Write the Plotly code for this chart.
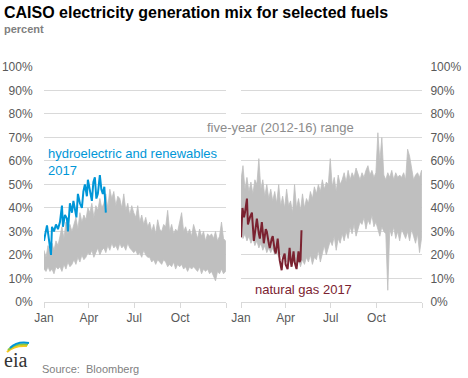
import plotly.graph_objects as go
import pandas as pd

# ---------------- data ----------------
band_days = list(range(0, 365, 4))  # day-of-year sample points of the 2012-16 range

hydro_upper = [22, 19, 24, 21, 25, 22, 26, 24,
               28, 32, 27, 34, 29, 33, 30,
               33, 36, 31, 38, 34, 37, 35, 40,
               38, 42, 36, 41, 39, 44, 40,
               42, 46, 40, 48, 44, 47, 41, 45,
               44, 40, 46, 39, 42, 37, 41, 38,
               36, 41, 34, 37, 33, 36, 32,
               34, 30, 33, 29, 35, 31, 30, 33,
               32, 39, 30, 33, 29, 31, 30, 34,
               38, 30, 32, 29, 31, 28, 33,
               30, 27, 31, 28, 30, 26, 29, 28,
               29, 27, 30, 26, 28, 34, 27, 26]
hydro_lower = [14, 13, 15, 13, 14, 12, 15, 14,
               15, 13, 16, 14, 17, 15, 16,
               18, 16, 19, 17, 20, 18, 19, 21,
               20, 22, 19, 21, 23, 20, 22,
               23, 21, 24, 22, 25, 23, 24, 22,
               25, 23, 24, 22, 25, 23, 22, 21,
               22, 20, 21, 19, 22, 20, 19,
               19, 17, 18, 16, 18, 17, 16, 18,
               17, 15, 16, 15, 17, 14, 16, 15,
               16, 14, 15, 13, 15, 14, 15,
               14, 13, 15, 12, 14, 13, 14, 12,
               13, 11, 9, 13, 12, 14, 12, 13]

gas_upper = [52, 58, 48, 53, 47, 51, 46, 52,
             50, 61, 48, 52, 45, 50, 44,
             48, 43, 47, 42, 50, 41, 45, 40,
             48, 41, 43, 38, 50, 40, 44,
             39, 46, 40, 44, 42, 47, 44, 49,
             46, 50, 47, 52, 48, 51, 50, 61,
             49, 53, 47, 54, 50, 52, 55,
             51, 56, 52, 55, 53, 57, 54, 52,
             55, 53, 56, 58, 54, 56, 53, 55,
             72, 60, 70, 54, 52, 55, 53,
             56, 52, 55, 53, 54, 53, 55, 52,
             65, 62, 56, 52, 54, 55, 53, 56]
gas_lower = [30, 27, 29, 26, 28, 25, 27, 24,
             26, 23, 25, 22, 24, 21, 23,
             21, 23, 20, 22, 19, 21, 18, 20,
             17, 19, 16, 18, 17, 16, 18,
             15, 18, 16, 19, 17, 20, 16, 19,
             18, 22, 17, 21, 24, 20, 23, 26,
             24, 28, 22, 27, 25, 29, 26,
             30, 27, 32, 29, 33, 28, 31, 34,
             33, 36, 31, 35, 33, 37, 32, 34,
             31, 28, 32, 30, 29, 5, 31,
             28, 32, 27, 30, 26, 31, 29, 27,
             30, 26, 31, 28, 25, 29, 21, 27]

hydro2017_days = [0, 3, 6, 9, 12, 14, 16, 20, 24, 28,
                  32, 36, 38, 42, 46, 48, 52, 56, 59, 62,
                  65, 68, 72, 76, 79, 82, 86, 88, 92, 96,
                  99, 102, 105, 108, 112, 115, 118, 121, 124]
hydro2017 = [26, 29, 32.6, 28, 22, 20, 32, 30, 33, 31,
             34, 41, 32, 37, 35.5, 30, 42, 38, 43, 39,
             36, 46, 42, 40, 47, 50, 45, 52, 47, 43,
             51, 53, 44, 46, 54, 48, 46, 49, 38]

gas2017_days = [0, 3, 6, 8, 12, 14, 18, 22, 26, 30,
                32, 36, 38, 42, 44, 46, 50, 52, 56, 58,
                62, 64, 68, 70, 74, 76, 78, 82, 84, 88,
                90, 94, 98, 100, 102, 106, 108, 112, 116, 118,
                120, 122]
gas2017 = [27.5, 40, 36, 38, 44, 33, 36, 38, 26, 33,
           35.5, 29, 27, 34, 29, 25, 31, 30, 25, 23,
           27, 28, 22, 20.6, 27, 22, 17.8, 13.5, 18, 20.6,
           16, 14, 23, 18, 15, 21.5, 17, 14, 21.5, 17,
           18, 30.5]

tick_dates = ["2017-01-01", "2017-04-01", "2017-07-01", "2017-10-01", "2018-01-01"]
tick_labels = ["Jan", "Apr", "Jul", "Oct", ""]
y_ticks = list(range(0, 101, 10))
y_labels = [f"{v}%" for v in y_ticks]

# ---------------- styling ----------------
FONT = "Liberation Sans, Arial, sans-serif"
GRAY_BAND = "#BFBFBF"
BLUE = "#0096D7"
RED = "#7B2230"
GRID = "#D9D9D9"
LABEL = "#595959"

W, H = 468, 378
ML, MR, MT, MB = 44, 46, 66, 76
PW, PH = W - ML - MR, H - MT - MB

base = pd.Timestamp("2017-01-01")


def to_dates(days):
    return [base + pd.Timedelta(days=d) for d in days]


def px(x):
    return (x - ML) / PW


def py(y):
    return (H - MB - y) / PH


fig = go.Figure()

for lo, hi, xa, ya in [(hydro_lower, hydro_upper, "x", "y"), (gas_lower, gas_upper, "x2", "y2")]:
    d = to_dates(band_days)
    fig.add_trace(go.Scatter(
        x=d + d[::-1], y=hi + lo[::-1], mode="lines", fill="toself",
        fillcolor=GRAY_BAND, line=dict(color=GRAY_BAND, width=0.8),
        xaxis=xa, yaxis=ya, hoverinfo="skip", showlegend=False))

fig.add_trace(go.Scatter(x=to_dates(hydro2017_days), y=hydro2017, mode="lines",
                         line=dict(color=BLUE, width=2), xaxis="x", yaxis="y", showlegend=False))
fig.add_trace(go.Scatter(x=to_dates(gas2017_days), y=gas2017, mode="lines",
                         line=dict(color=RED, width=2), xaxis="x2", yaxis="y2", showlegend=False))

xcommon = dict(type="date", range=["2017-01-01", "2018-01-01"], tickvals=tick_dates,
               ticktext=tick_labels, ticks="outside", ticklen=5, tickcolor=GRID,
               showgrid=False, showline=True, linecolor=GRID, linewidth=1, zeroline=False,
               automargin=False,
               tickfont=dict(family=FONT, size=12, color=LABEL), fixedrange=True)
ycommon = dict(range=[0, 100.4], tickvals=y_ticks, ticktext=y_labels, showgrid=True,
               gridcolor=GRID, gridwidth=1, zeroline=False, showline=False, ticks="outside",
               tickcolor="rgba(0,0,0,0)", automargin=False,
               tickfont=dict(family=FONT, size=12, color=LABEL), fixedrange=True)

x1_end = (226 - ML) / PW
x2_start = (241 - ML) / PW

fig.update_layout(
    width=W, height=H,
    margin=dict(l=ML, r=MR, t=MT, b=MB, autoexpand=False),
    paper_bgcolor="white", plot_bgcolor="white",
    xaxis=dict(domain=[0, x1_end], anchor="y", **xcommon),
    xaxis2=dict(domain=[x2_start, 1], anchor="y2", **xcommon),
    yaxis=dict(anchor="x", side="left", ticklen=8, **ycommon),
    yaxis2=dict(anchor="x2", side="right", ticklen=5, **ycommon),
    showlegend=False,
)

ann = [
    dict(text="<b>CAISO electricity generation mix for selected fuels</b>", x=px(2), y=py(2),
         xanchor="left", yanchor="top", font=dict(family=FONT, size=16, color="#000000")),
    dict(text="<b>percent</b>", x=px(2), y=py(21), xanchor="left", yanchor="top",
         font=dict(family=FONT, size=11, color="#7F7F7F")),
    dict(text="five-year (2012-16) range", x=px(205), y=py(127), xanchor="left", yanchor="middle",
         font=dict(family=FONT, size=13, color="#8C8C8C")),
    dict(text="hydroelectric and renewables<br>2017", x=px(46), y=py(162), xanchor="left",
         yanchor="middle", align="left", font=dict(family=FONT, size=13, color=BLUE)),
    dict(text="natural gas 2017", x=px(253), y=py(289), xanchor="left", yanchor="middle",
         font=dict(family=FONT, size=13, color=RED)),
    dict(text="Source:  Bloomberg", x=px(40), y=py(369), xanchor="left", yanchor="middle",
         font=dict(family=FONT, size=11, color="#7F7F7F")),
    dict(text="eia", x=px(2), y=py(360), xanchor="left", yanchor="middle",
         font=dict(family="Liberation Serif, DejaVu Serif, serif", size=20, color="#333333")),
]
for a in ann:
    a.update(xref="paper", yref="paper", showarrow=False)
fig.update_layout(annotations=ann)

# small swoosh of the eia logo
for (x0, y0, cx, cy, x1, y1, col) in [(7, 352, 14, 345, 27, 346, "#F7C81E"),
                                       (8, 350, 15, 343, 28, 344.5, "#8CC63F"),
                                       (10, 348, 17, 341, 29, 343, "#0096D7")]:
    fig.add_shape(type="path", xref="paper", yref="paper",
                  path=f"M {px(x0)},{py(y0)} Q {px(cx)},{py(cy)} {px(x1)},{py(y1)}",
                  line=dict(color=col, width=2))

fig.write_html("out.html", config={"displayModeBar": False},
               post_script="document.body.style.margin='0';document.body.style.overflow='hidden';")
